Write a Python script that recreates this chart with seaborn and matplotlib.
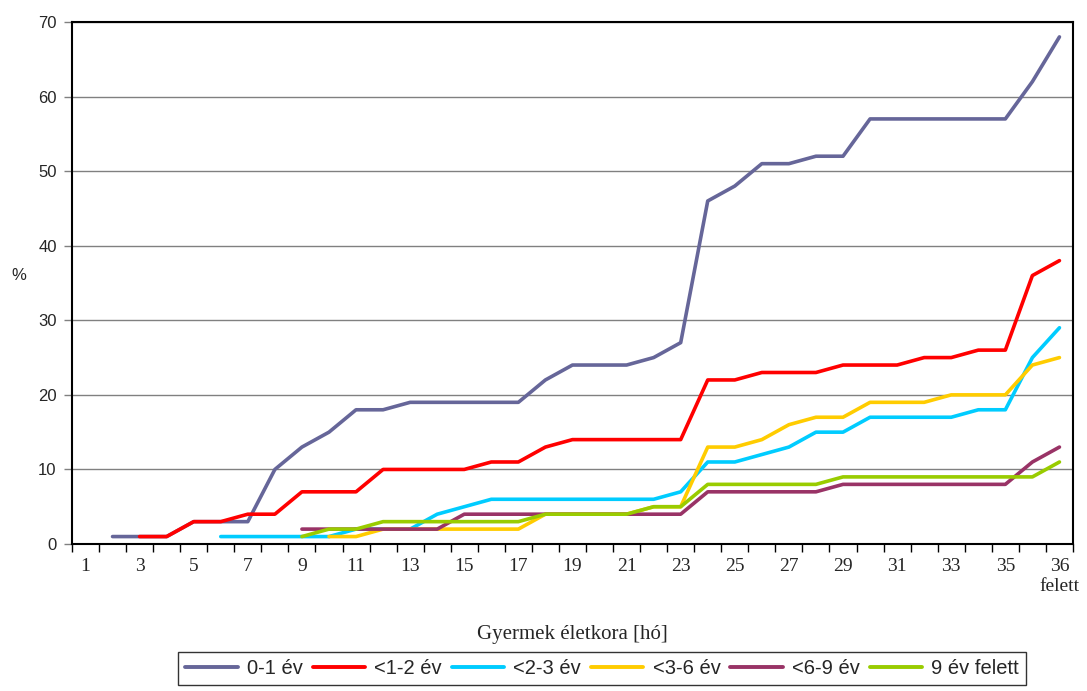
import numpy as np
import pandas as pd
import seaborn as sb
import matplotlib.pyplot as plt
from matplotlib.ticker import FixedLocator

# ==[ Data ]===============================================================
months = [str(m) for m in range(1, 37)] + ["36\nfelett"]
series_names = ["0-1 év", "<1-2 év", "<2-3 év", "<3-6 év", "<6-9 év", "9 év felett"]
series_colors = ["#666699", "#FF0000", "#00CCFF", "#FFCC00", "#993366", "#99CC00"]

n = np.nan
ev_0_1 = [n, 1, 1, 1, 3, 3, 3, 10, 13, 15, 18, 18, 19, 19, 19, 19, 19, 22, 24, 24,
          24, 25, 27, 46, 48, 51, 51, 52, 52, 57, 57, 57, 57, 57, 57, 62, 68]
ev_1_2 = [n, n, 1, 1, 3, 3, 4, 4, 7, 7, 7, 10, 10, 10, 10, 11, 11, 13, 14, 14,
          14, 14, 14, 22, 22, 23, 23, 23, 24, 24, 24, 25, 25, 26, 26, 36, 38]
ev_2_3 = [n, n, n, n, n, 1, 1, 1, 1, 1, 2, 2, 2, 4, 5, 6, 6, 6, 6, 6,
          6, 6, 7, 11, 11, 12, 13, 15, 15, 17, 17, 17, 17, 18, 18, 25, 29]
ev_3_6 = [n, n, n, n, n, n, n, n, n, 1, 1, 2, 2, 2, 2, 2, 2, 4, 4, 4,
          4, 5, 5, 13, 13, 14, 16, 17, 17, 19, 19, 19, 20, 20, 20, 24, 25]
ev_6_9 = [n, n, n, n, n, n, n, n, 2, 2, 2, 2, 2, 2, 4, 4, 4, 4, 4, 4,
          4, 4, 4, 7, 7, 7, 7, 7, 8, 8, 8, 8, 8, 8, 8, 11, 13]
ev_9_up = [n, n, n, n, n, n, n, n, 1, 2, 2, 3, 3, 3, 3, 3, 3, 4, 4, 4,
           4, 5, 5, 8, 8, 8, 8, 8, 9, 9, 9, 9, 9, 9, 9, 9, 11]

# ==[ Long form table ]====================================================
pos = np.arange(1, len(months) + 1)
frames = []
for name, vals in zip(series_names, [ev_0_1, ev_1_2, ev_2_3, ev_3_6, ev_6_9, ev_9_up]):
    frames.append(pd.DataFrame({"pos": pos, "value": vals, "series": name}))
df = pd.concat(frames).dropna()

# ==[ Plot ]===============================================================
sb.set_style("white")
fig = plt.figure(figsize=(10.87, 6.91), dpi=100)
ax = fig.add_axes([0.0662, 0.2127, 0.9209, 0.7555])

sb.lineplot(data=df, x="pos", y="value", hue="series", hue_order=series_names,
            palette=series_colors, linewidth=2.6, ax=ax, legend=False,
            estimator=None, sort=True)

ax.set_xlim(0.5, len(months) + 0.5)
ax.set_ylim(0, 70)
ax.set_yticks(range(0, 71, 10))
ax.yaxis.grid(True, color="#808080", linewidth=1)
ax.set_axisbelow(True)

for s in ax.spines.values():
    s.set_color("black")
    s.set_linewidth(1.5)

# y ticks
ax.tick_params(axis="y", which="major", direction="out", length=6, width=1,
               color="#808080", pad=5, left=True, labelsize=12)
for lab in ax.get_yticklabels():
    lab.set_fontfamily("Liberation Sans")

# x ticks: labels every 2nd category, tick marks at boundaries
label_idx = list(range(0, len(months), 2))
ax.xaxis.set_major_locator(FixedLocator(pos[label_idx]))
ax.set_xticklabels([months[i] for i in label_idx], fontfamily="Liberation Serif", fontsize=14)
ax.xaxis.set_minor_locator(FixedLocator(np.arange(0.5, len(months) + 1, 1)))
ax.tick_params(axis="x", which="major", length=0, pad=10, bottom=True)
ax.tick_params(axis="x", which="minor", direction="out", length=6, width=1,
               color="black", bottom=True)

ax.set_xlabel("Gyermek életkora [hó]", fontfamily="Liberation Serif", fontsize=15, labelpad=22)
ax.set_ylabel("%", fontfamily="Liberation Sans", fontsize=12, rotation=0, labelpad=18)
ax.yaxis.set_label_coords(-0.053, 0.5)

handles = [plt.Line2D([], [], color=c, linewidth=2.8) for c in series_colors]
leg = fig.legend(handles, series_names, loc="lower center", ncol=6,
                 bbox_to_anchor=(0.554, 0.003), frameon=True, fancybox=False,
                 prop={"family": "Liberation Sans", "size": 14.5},
                 handlelength=2.6, handletextpad=0.45, columnspacing=0.5,
                 borderpad=0.35, borderaxespad=0.2)
leg.get_frame().set_edgecolor("black")
leg.get_frame().set_linewidth(1)

fig.savefig("out.png", dpi=100)
